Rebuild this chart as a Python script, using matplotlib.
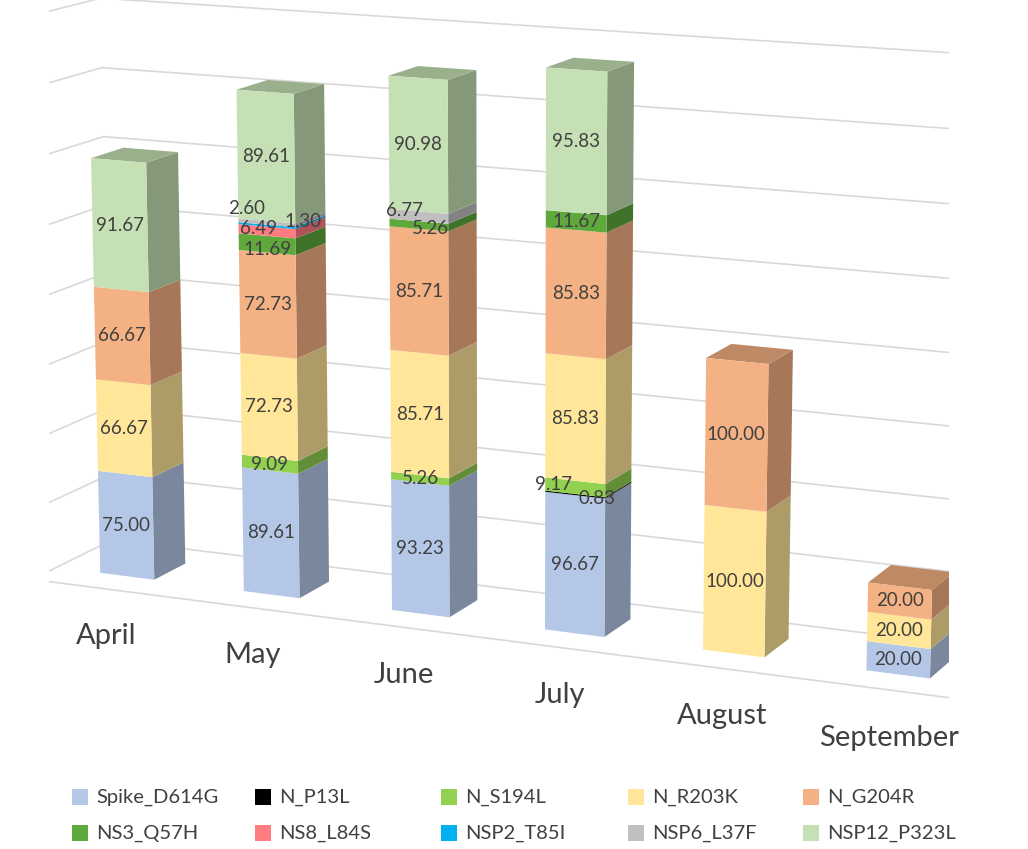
import numpy as np
import matplotlib
matplotlib.use("Agg")
import matplotlib.pyplot as plt
from matplotlib.patches import Rectangle
from matplotlib.colors import to_rgb
from mpl_toolkits.mplot3d import proj3d

# ---------------- data ----------------
months = ["April", "May", "June", "July", "August", "September"]
series = ["Spike_D614G", "N_P13L", "N_S194L", "N_R203K", "N_G204R",
          "NS3_Q57H", "NS8_L84S", "NSP2_T85I", "NSP6_L37F", "NSP12_P323L"]
spike_d614g = [75.00, 89.61, 93.23, 96.67, 0.00, 20.00]
n_p13l      = [0.00, 0.00, 0.00, 0.83, 0.00, 0.00]
n_s194l     = [0.00, 9.09, 5.26, 9.17, 0.00, 0.00]
n_r203k     = [66.67, 72.73, 85.71, 85.83, 100.00, 20.00]
n_g204r     = [66.67, 72.73, 85.71, 85.83, 100.00, 20.00]
ns3_q57h    = [0.00, 11.69, 5.26, 11.67, 0.00, 0.00]
ns8_l84s    = [0.00, 6.49, 0.00, 0.00, 0.00, 0.00]
nsp2_t85i   = [0.00, 1.30, 0.00, 0.00, 0.00, 0.00]
nsp6_l37f   = [0.00, 2.60, 6.77, 0.00, 0.00, 0.00]
nsp12_p323l = [91.67, 89.61, 90.98, 95.83, 0.00, 0.00]
values = [spike_d614g, n_p13l, n_s194l, n_r203k, n_g204r,
          ns3_q57h, ns8_l84s, nsp2_t85i, nsp6_l37f, nsp12_p323l]
colors = ["#B4C7E7", "#000000", "#92D050", "#FFE699", "#F4B183",
          "#5FA83C", "#FF7C80", "#00B0F0", "#BFBFBF", "#C5E0B4"]

# label nudges (pixels) for crowded small segments
nudge = {(1, 8): (-20, 14), (1, 7): (36, 4), (1, 6): (-8, 3), (1, 5): (0, -5),
         (2, 8): (-14, 6), (2, 5): (12, -3),
         (3, 2): (-22, 3), (3, 1): (22, -4)}

plt.rcParams['font.family'] = ['Lato', 'DejaVu Sans']

W, H = 1028, 849
fig = plt.figure(figsize=(W / 100, H / 100), dpi=100)
ax = fig.add_axes([-0.155, 0.066, 1.28, 1.06], projection='3d')
ax.set_proj_type('persp', focal_length=0.85)
ax.view_init(elev=12.5, azim=-66)

bw, bd = 0.38, 0.4
xs, ys, zs, dxs, dys, dzs, fcols = [], [], [], [], [], [], []
labels = []
clear = (0, 0, 0, 0)
for i in range(len(months)):
    base = 0.0
    nz = [k for k in range(len(series)) if values[k][i] > 0]
    top_k = nz[-1] if nz else None
    for k in nz:
        v = values[k][i]
        c = np.array(to_rgb(colors[k]))
        front = tuple(c) + (1,)
        side = tuple(c * 0.68) + (1,)
        top = tuple(c * 0.78) + (1,)
        xs.append(i - bw / 2); ys.append(-bd / 2); zs.append(base)
        dxs.append(bw); dys.append(bd); dzs.append(v)
        # faces: -z, +z, -y, +y, -x, +x
        fcols += [clear, top if k == top_k else clear, front, clear, clear, side]
        labels.append((i, k, base + v / 2, v))
        base += v

ax.bar3d(xs, ys, zs, dxs, dys, dzs, color=fcols, shade=False,
         linewidth=0, edgecolor='none')

# wall gridlines
grid_c = "#D9D9D9"
x0, x1 = -0.5, 5.5
y0, y1 = -0.5, 0.5
for z in range(0, 401, 50):
    ax.plot([x0, x1], [y1, y1], [z, z], color=grid_c, lw=1.2, zorder=1)
    ax.plot([x0, x0], [y0, y1], [z, z], color=grid_c, lw=1.2, zorder=1)
ax.plot([x0, x1], [y0, y0], [0, 0], color=grid_c, lw=1.2, zorder=1)

ax.set_xlim(x0, x1)
ax.set_ylim(y0, y1)
ax.set_zlim(0, 400)
ax.set_box_aspect((6, 1, 3.47), zoom=1.285)
ax.set_axis_off()

# project 3D anchor points to pixels, then place plain 2D texts
fig.canvas.draw()
M = ax.get_proj()


def to_px(x, y, z):
    px, py, _ = proj3d.proj_transform(x, y, z, M)
    return ax.transData.transform((px, py))


for (i, k, zm, v) in labels:
    X, Y = to_px(i, -bd / 2, zm)
    dx, dy = nudge.get((i, k), (0, 0))
    fig.text((X + dx) / W, (Y + dy) / H, f"{v:.2f}", ha='center', va='center',
             fontsize=13.5, color="#404040")

for i, m in enumerate(months):
    X, Y = to_px(i, y0 - 0.25, 0)
    fig.text((X + 23) / W, (Y - 24) / H, m, ha='center', va='top',
             fontsize=21, color="#404040")

# legend (row-major, Excel style)
col_x = [72, 255, 441, 628, 803]
row_y = [797, 833]
for j, name in enumerate(series):
    r, cidx = divmod(j, 5)
    cx, cy = col_x[cidx], H - row_y[r]
    fig.add_artist(Rectangle((cx / W, (cy - 8) / H), 16 / W, 16 / H,
                             transform=fig.transFigure, facecolor=colors[j],
                             edgecolor='none'))
    fig.text((cx + 24) / W, cy / H, name, ha='left', va='center',
             fontsize=14.5, color="#404040")

fig.savefig("out.png", dpi=100)
